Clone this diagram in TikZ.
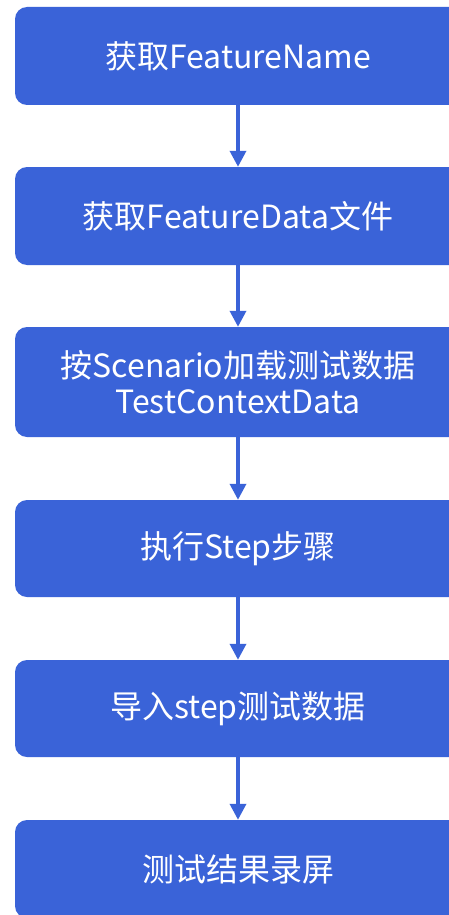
\documentclass[tikz,border=0pt]{standalone}
\usepackage{fontspec}
\setmainfont{Noto Sans CJK SC}
\usetikzlibrary{arrows.meta}
\definecolor{flowblue}{HTML}{3A63D8}
\tikzset{
  stepbox/.style={rectangle, rounded corners=12pt, fill=flowblue, text=white,
    minimum width=446pt, align=center, inner sep=0pt,
    font=\fontsize{32}{36}\selectfont},
  flow/.style={draw=flowblue, line width=3.5pt,
    -{Triangle[width=16pt,length=16pt]}}
}
\begin{document}
\begin{tikzpicture}[x=1pt,y=-1pt]
  \useasboundingbox (0,0) rectangle (449,915);
  \clip (0,0) rectangle (449,915);
  \node[stepbox, minimum height=98pt]  (s1) at (238,56)    {获取FeatureName};
  \node[stepbox, minimum height=98pt]  (s2) at (238,216)   {获取FeatureData文件};
  \node[stepbox, minimum height=110pt] (s3) at (238,382)   {按Scenario加载测试数据\\TestContextData};
  \node[stepbox, minimum height=97pt]  (s4) at (238,548.5) {执行Step步骤};
  \node[stepbox, minimum height=97pt]  (s5) at (238,708.5) {导入step测试数据};
  \node[stepbox, minimum height=98pt]  (s6) at (238,869)   {测试结果录屏};
  \draw[flow] (s1) -- (s2);
  \draw[flow] (s2) -- (s3);
  \draw[flow] (s3) -- (s4);
  \draw[flow] (s4) -- (s5);
  \draw[flow] (s5) -- (s6);
\end{tikzpicture}
\end{document}
